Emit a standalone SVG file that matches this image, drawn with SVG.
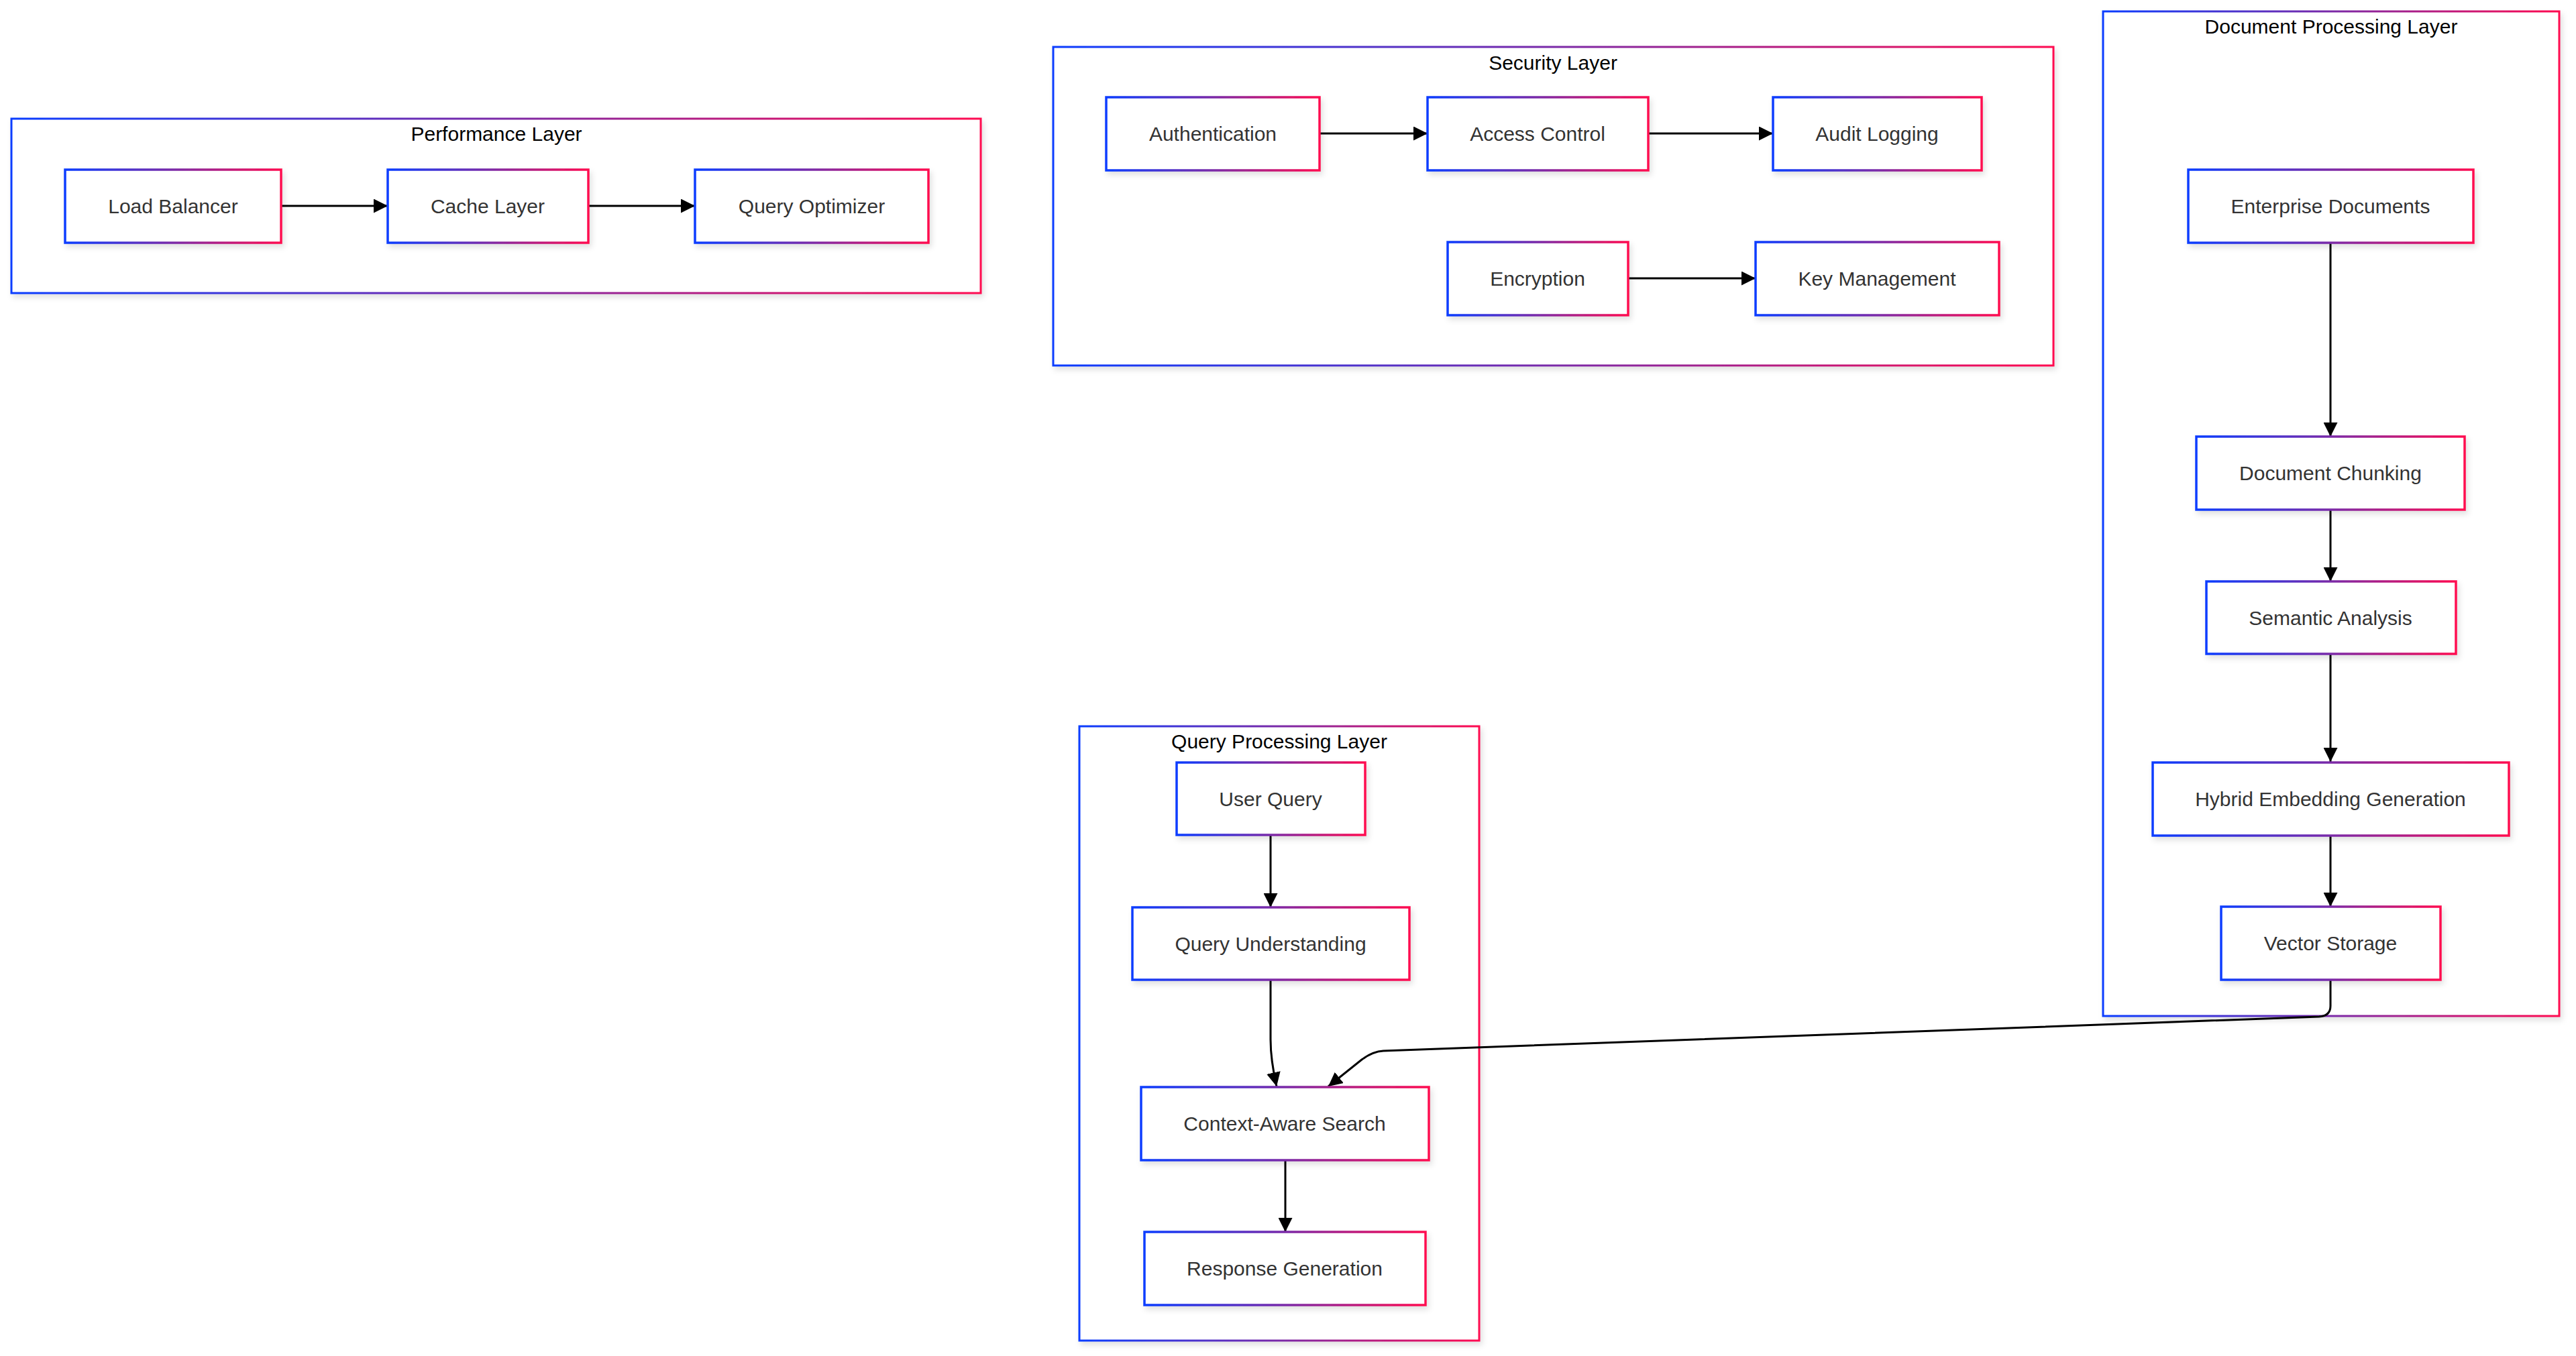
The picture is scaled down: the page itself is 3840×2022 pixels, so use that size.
<svg xmlns="http://www.w3.org/2000/svg" width="3840" height="2022" viewBox="0 0 3840 2022">
<defs>
<linearGradient id="g" x1="0" y1="0" x2="1" y2="0">
<stop offset="0" stop-color="#0a3cff"/>
<stop offset="0.5" stop-color="#7a2aa8"/>
<stop offset="1" stop-color="#ff0a50"/>
</linearGradient>
<filter id="sh" x="-10%" y="-10%" width="130%" height="140%">
<feDropShadow dx="3" dy="5" stdDeviation="4" flood-color="#000" flood-opacity="0.12"/>
</filter>
<marker id="ah" viewBox="0 0 10 10" refX="10" refY="5" markerWidth="7" markerHeight="7" markerUnits="strokeWidth" orient="auto">
<path d="M0,0 L10,5 L0,10 z" fill="#000"/>
</marker>
<style>
.cl{fill:#fff;stroke:url(#g);stroke-width:3;filter:url(#sh)}
.nd{fill:#fff;stroke:url(#g);stroke-width:3.5;filter:url(#sh)}
.t{font-family:"Liberation Sans",Arial,sans-serif;font-size:30px;fill:#333;text-anchor:middle;dominant-baseline:central}
.ct{font-family:"Liberation Sans",Arial,sans-serif;font-size:30px;fill:#000;text-anchor:middle;dominant-baseline:central}
.e{fill:none;stroke:#000;stroke-width:3;marker-end:url(#ah)}
</style>
</defs>
<rect width="3840" height="2022" fill="#fff"/>

<g id="perf-layer">
<rect class="cl" x="17" y="177" width="1445" height="260"/>
<text class="ct" x="740" y="199">Performance Layer</text>
</g>
<g id="sec-layer">
<rect class="cl" x="1570" y="70" width="1491" height="475"/>
<text class="ct" x="2315" y="93">Security Layer</text>
</g>
<g id="doc-layer">
<rect class="cl" x="3135" y="17" width="680" height="1498"/>
<text class="ct" x="3475" y="39">Document Processing Layer</text>
</g>
<g id="query-layer">
<rect class="cl" x="1609" y="1083" width="596" height="916"/>
<text class="ct" x="1907" y="1105">Query Processing Layer</text>
</g>

<g id="connectors">
<path class="e" d="M419,307 L578,307"/>
<path class="e" d="M877,307 L1036,307"/>
<path class="e" d="M1967,199 L2128,199"/>
<path class="e" d="M2457,199 L2643,199"/>
<path class="e" d="M2427,415 L2617,415"/>
<path class="e" d="M3474,362 L3474,651"/>
<path class="e" d="M3474,760 L3474,867"/>
<path class="e" d="M3474,975 L3474,1136"/>
<path class="e" d="M3474,1246 L3474,1352"/>
<path class="e" d="M1894,1245 L1894,1353"/>
<path class="e" d="M1894,1461 L1894,1550 Q1894,1580 1903,1620"/>
<path class="e" d="M1916,1730 L1916,1837"/>
<path class="e" d="M3474,1461 L3474,1500 Q3474,1515 3457,1516 L2062,1567 Q2046,1568 2030,1580 L1980,1620"/>
</g>

<g id="n-lb"><rect class="nd" x="97" y="253" width="322" height="109"/><text class="t" x="258" y="307">Load Balancer</text></g>
<g id="n-cache"><rect class="nd" x="578" y="253" width="299" height="109"/><text class="t" x="727" y="307">Cache Layer</text></g>
<g id="n-qo"><rect class="nd" x="1036" y="253" width="348" height="109"/><text class="t" x="1210" y="307">Query Optimizer</text></g>

<g id="n-auth"><rect class="nd" x="1649" y="145" width="318" height="109"/><text class="t" x="1808" y="199">Authentication</text></g>
<g id="n-access"><rect class="nd" x="2128" y="145" width="329" height="109"/><text class="t" x="2292" y="199">Access Control</text></g>
<g id="n-audit"><rect class="nd" x="2643" y="145" width="311" height="109"/><text class="t" x="2798" y="199">Audit Logging</text></g>
<g id="n-enc"><rect class="nd" x="2158" y="361" width="269" height="109"/><text class="t" x="2292" y="415">Encryption</text></g>
<g id="n-key"><rect class="nd" x="2617" y="361" width="363" height="109"/><text class="t" x="2798" y="415">Key Management</text></g>

<g id="n-ed"><rect class="nd" x="3262" y="253" width="425" height="109"/><text class="t" x="3474" y="307">Enterprise Documents</text></g>
<g id="n-dc"><rect class="nd" x="3274" y="651" width="400" height="109"/><text class="t" x="3474" y="705">Document Chunking</text></g>
<g id="n-sa"><rect class="nd" x="3289" y="867" width="372" height="108"/><text class="t" x="3474" y="921">Semantic Analysis</text></g>
<g id="n-heg"><rect class="nd" x="3209" y="1137" width="531" height="109"/><text class="t" x="3474" y="1191">Hybrid Embedding Generation</text></g>
<g id="n-vs"><rect class="nd" x="3311" y="1352" width="327" height="109"/><text class="t" x="3474" y="1406">Vector Storage</text></g>

<g id="n-uq"><rect class="nd" x="1754" y="1137" width="281" height="108"/><text class="t" x="1894" y="1191">User Query</text></g>
<g id="n-qu"><rect class="nd" x="1688" y="1353" width="413" height="108"/><text class="t" x="1894" y="1407">Query Understanding</text></g>
<g id="n-cas"><rect class="nd" x="1701" y="1621" width="429" height="109"/><text class="t" x="1915" y="1675">Context-Aware Search</text></g>
<g id="n-rg"><rect class="nd" x="1706" y="1837" width="419" height="109"/><text class="t" x="1915" y="1891">Response Generation</text></g>
</svg>
